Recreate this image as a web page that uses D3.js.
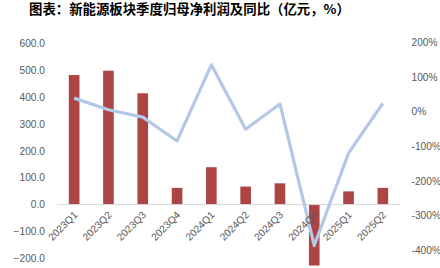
<!DOCTYPE html>
<html lang="zh">
<head>
<meta charset="UTF-8">
<title>新能源板块季度归母净利润及同比</title>
<script src="https://d3js.org/d3.v7.min.js"></script>
<style>
    body { margin: 0; background: #fff; }
    svg text { font-family: "Liberation Sans", "Noto Sans CJK SC", sans-serif; }
    .title { font-family: "Noto Sans CJK SC", sans-serif !important; font-weight: bold; }
</style>
</head>
<body>
<div id="chart"></div>
<script>
    // data
    let quarters = ["2023Q1", "2023Q2", "2023Q3", "2023Q4", "2024Q1", "2024Q2", "2024Q3", "2024Q4", "2025Q1", "2025Q2"];
    let profit = [482, 498, 414, 62, 139, 67, 79, -227, 49, 62];      // 亿元
    let yoy = [38.7, 5, -16, -85, 135, -51, 22, -387, -120, 24];       // %
    let leftTicks = [600, 500, 400, 300, 200, 100, 0, -100, -200];
    let rightTicks = [200, 100, 0, -100, -200, -300, -400];

    let width = 440, height = 268;
    let plot = {left: 57, right: 400};

    let svg = d3.select("#chart").append("svg")
        .attr("width", width)
        .attr("height", height);

    svg.append("text")
        .attr("class", "title")
        .attr("x", 29)
        .attr("y", 13.5)
        .attr("font-size", 13.4)
        .attr("fill", "#000")
        .text("图表：新能源板块季度归母净利润及同比（亿元，%）");

    let x = d3.scaleBand()
        .domain(quarters)
        .range([plot.left, plot.right])
        .paddingInner(0.69)
        .paddingOuter(0.345);

    let xc = d => x(d) + x.bandwidth() / 2;

    let yL = d3.scaleLinear().domain([-200, 600]).range([258.3, 43.3]);
    let yR = d3.scaleLinear().domain([-400, 200]).range([250, 42.3]);

    // left axis labels
    let leftAxis = svg.append("g")
        .attr("transform", "translate(45,0)")
        .call(d3.axisLeft(yL).tickValues(leftTicks).tickFormat(d3.format(".1f")).tickSize(0).tickPadding(0));
    leftAxis.select(".domain").remove();
    leftAxis.selectAll("text")
        .attr("font-size", 10.2)
        .attr("fill", "#595959")
        .attr("font-family", "Liberation Sans");

    // right axis labels
    let rightAxis = svg.append("g")
        .attr("transform", "translate(411.5,0)")
        .call(d3.axisRight(yR).tickValues(rightTicks).tickFormat(d => d + "%").tickSize(0).tickPadding(0));
    rightAxis.select(".domain").remove();
    rightAxis.selectAll("text")
        .attr("font-size", 10.2)
        .attr("fill", "#595959")
        .attr("font-family", "Liberation Sans");

    // bars
    svg.append("g").selectAll("rect")
        .data(quarters)
        .join("rect")
        .attr("x", d => x(d))
        .attr("width", x.bandwidth())
        .attr("y", (d, i) => Math.min(yL(profit[i]), yL(0)))
        .attr("height", (d, i) => Math.abs(yL(profit[i]) - yL(0)))
        .attr("fill", "#ad4544");

    // zero line
    svg.append("line")
        .attr("x1", plot.left)
        .attr("x2", plot.right)
        .attr("y1", yL(0))
        .attr("y2", yL(0))
        .attr("stroke", "#d9d9d9")
        .attr("stroke-width", 1);

    // yoy line
    let line = d3.line()
        .x(d => xc(d.q))
        .y(d => yR(d.v));

    svg.append("path")
        .datum(quarters.map((q, i) => ({q: q, v: yoy[i]})))
        .attr("d", line)
        .attr("fill", "none")
        .attr("stroke", "#b4c7e7")
        .attr("stroke-width", 3.2)
        .attr("stroke-linejoin", "round");

    // category labels, rotated
    svg.append("g").selectAll("text")
        .data(quarters)
        .join("text")
        .attr("transform", d => `translate(${xc(d) + 4},${yL(0) + 11}) rotate(-45)`)
        .attr("text-anchor", "end")
        .attr("font-size", 10.2)
        .attr("fill", "#595959")
        .text(d => d);
</script>
</body>
</html>
